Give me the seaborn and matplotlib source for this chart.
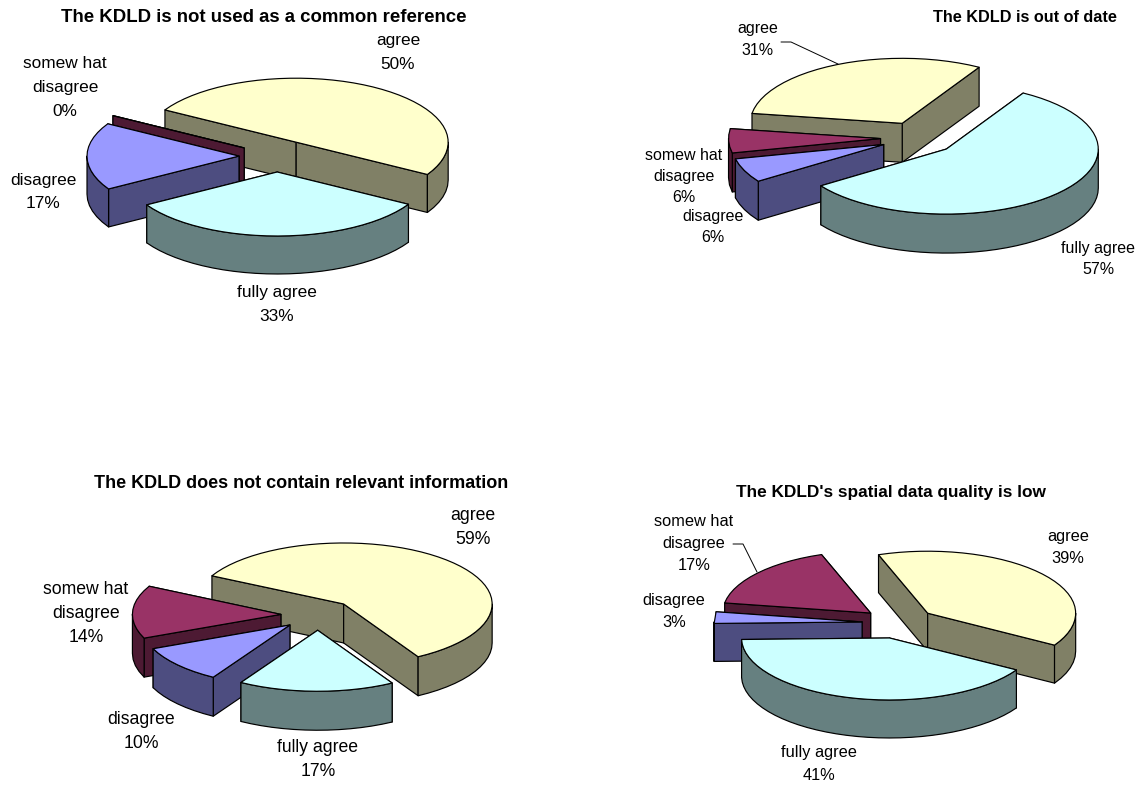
import numpy as np
import matplotlib
matplotlib.use("Agg")
import matplotlib.pyplot as plt
from matplotlib.patches import Polygon
import seaborn as sns

# Survey answers, in percent, clockwise from the first slice
ANSWERS = ["agree", "fully agree", "disagree", "somewhat disagree"]
not_common_reference = [50, 33, 17, 0]
out_of_date = [31, 57, 6, 6]
not_relevant = [59, 17, 10, 14]
low_quality = [39, 41, 3, 17]

TITLES = [
    "The KDLD is not used as a common reference",
    "The KDLD is out of date",
    "The KDLD does not contain relevant information",
    "The KDLD's spatial data quality is low",
]

# Slice answers as printed beside each pie
LABEL_LINES = {
    "agree": ["agree"],
    "fully agree": ["fully agree"],
    "disagree": ["disagree"],
    "somewhat disagree": ["somew hat", "disagree"],
}

sns.set_theme(style="white", rc={"font.family": ["Liberation Sans", "DejaVu Sans"]})
top_colors = sns.color_palette(["#FFFFCC", "#CCFFFF", "#9999FF", "#993366"])
side_colors = sns.color_palette(["#808066", "#668080", "#4D4D80", "#4D1A33"])

EXPLODE = 0.25
EDGE = dict(edgecolor="black", linewidth=0.85, joinstyle="round")

# Placement of each pie on the page
PANELS = [
    dict(values=not_common_reference, title=TITLES[0], title_xy=(264, 18), title_px=18.6,
         center=(277, 156), rx=152, ry=64, depth=38, start=-59.7, text_px=17.2, line_gap=23.5,
         labels=[(398, 41), (277, 293), (43, 180), (65, 64)], leaders={}),
    dict(values=out_of_date, title=TITLES[1], title_xy=(1025, 17), title_px=16.2,
         center=(918.5, 138), rx=152, ry=65, depth=39, start=-81.2, text_px=16, line_gap=21.5,
         labels=[(758, 29), (1098, 248), (713, 216), (684, 155)],
         leaders={0: [(781, 42), (791, 42), (838, 64)]}),
    dict(values=not_relevant, title=TITLES[2], title_xy=(301, 483), title_px=18,
         center=(318, 615), rx=148.5, ry=61, depth=39, start=-62.5, text_px=17.6, line_gap=24,
         labels=[(473, 515), (318, 748), (141, 719), (86, 589)], leaders={}),
    dict(values=low_quality, title=TITLES[3], title_xy=(891, 493), title_px=17.2,
         center=(899, 623), rx=148, ry=62, depth=38, start=-19.4, text_px=16.4, line_gap=22.5,
         labels=[(1068, 536), (819, 753), (674, 600), (694, 521)],
         leaders={3: [(733, 544), (743, 544), (757, 572)]}),
]


def rim(apex, rx, ry, degrees):
    """Points on the pie's elliptical rim; angles run clockwise from straight up."""
    t = np.radians(degrees)
    return np.column_stack([apex[0] + rx * np.sin(t), apex[1] - ry * np.cos(t)])


def draw_slice(ax, apex, rx, ry, depth, a0, a1, top, side):
    down = np.array([0, depth])
    apex = np.asarray(apex, dtype=float)

    # Flat cut faces, the one further back first
    ends = sorted((a0, a1), key=lambda a: rim(apex, rx, ry, [a])[0, 1])
    for a in ends:
        p = rim(apex, rx, ry, [a])[0]
        ax.add_patch(Polygon([apex, p, p + down, apex + down], facecolor=side, **EDGE))

    # Curved outer wall: only the stretch that faces the viewer
    w0, w1 = max(a0, 90), min(a1, 270)
    if w1 > w0:
        n = max(int((w1 - w0) / 4), 2)
        arc = rim(apex, rx, ry, np.linspace(w0, w1, n))
        ax.add_patch(Polygon(np.vstack([arc, arc[::-1] + down]), facecolor=side, **EDGE))

    # Top face
    n = max(int((a1 - a0) / 4), 2)
    arc = rim(apex, rx, ry, np.linspace(a0, a1, n))
    ax.add_patch(Polygon(np.vstack([apex, arc]), facecolor=top, **EDGE))


def draw_pie(ax, panel):
    values = np.asarray(panel["values"], dtype=float)
    spans = values / values.sum() * 360
    starts = panel["start"] + np.concatenate([[0], np.cumsum(spans)[:-1]])
    cx, cy = panel["center"]
    rx, ry = panel["rx"], panel["ry"]

    slices = []
    for i, (a0, span) in enumerate(zip(starts, spans)):
        mid = np.radians(a0 + span / 2)
        apex = (cx + EXPLODE * rx * np.sin(mid), cy - EXPLODE * ry * np.cos(mid))
        slices.append((apex, a0, a0 + span, i))

    # Paint from the back of the pie to the front
    for apex, a0, a1, i in sorted(slices, key=lambda s: s[0][1]):
        draw_slice(ax, apex, rx, ry, panel["depth"], a0, a1, top_colors[i], side_colors[i])

    for i, (answer, value) in enumerate(zip(ANSWERS, panel["values"])):
        x, y = panel["labels"][i]
        for k, line in enumerate(LABEL_LINES[answer] + [f"{value}%"]):
            ax.text(x, y + k * panel["line_gap"], line, ha="center", va="center",
                    fontsize=panel["text_px"] * 0.72, color="black")
        if i in panel["leaders"]:
            xs, ys = zip(*panel["leaders"][i])
            ax.plot(xs, ys, color="black", lw=0.7)

    tx, ty = panel["title_xy"]
    ax.text(tx, ty, panel["title"], ha="center", va="center", fontweight="bold",
            fontsize=panel["title_px"] * 0.72, color="black")


fig = plt.figure(figsize=(11.38, 7.85), dpi=100, facecolor="white")
ax = fig.add_axes([0, 0, 1, 1])
ax.set_xlim(0, 1138)
ax.set_ylim(785, 0)
ax.axis("off")
for panel in PANELS:
    draw_pie(ax, panel)
sns.despine(ax=ax, left=True, bottom=True)
fig.savefig("out.png", dpi=100)
